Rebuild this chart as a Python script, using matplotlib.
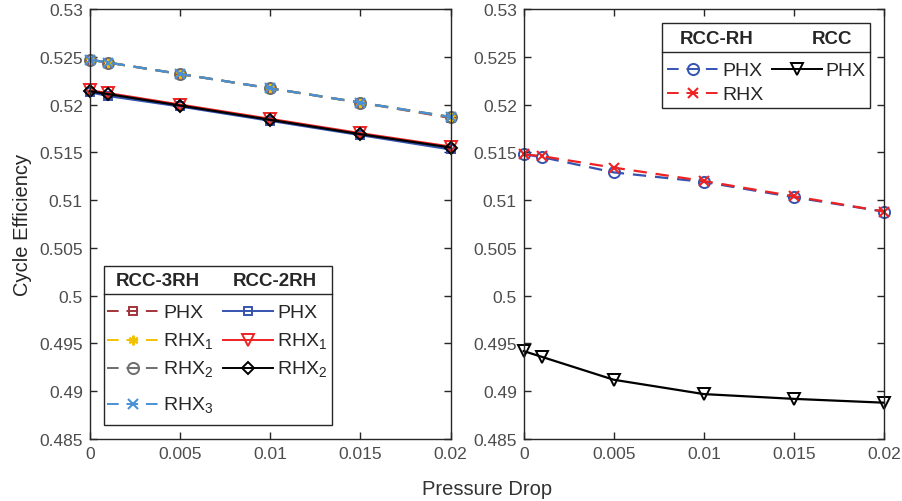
import matplotlib
matplotlib.use("Agg")
import matplotlib.pyplot as plt
from matplotlib.lines import Line2D
from matplotlib.ticker import FuncFormatter

plt.rcParams['font.family'] = ['Liberation Sans', 'DejaVu Sans']
plt.rcParams['mathtext.fontset'] = 'custom'
plt.rcParams['mathtext.rm'] = 'Liberation Sans'

# pressure drop (x axis)
dp = [0, 0.001, 0.005, 0.01, 0.015, 0.02]

# left panel: RCC-3RH (dashed) and RCC-2RH (solid)
rcc3_phx = [0.5247, 0.5244, 0.5232, 0.5217, 0.5202, 0.5186]
rcc3_rhx1 = [0.5247, 0.5244, 0.5232, 0.5217, 0.5202, 0.5187]
rcc3_rhx2 = [0.5247, 0.5244, 0.5232, 0.5217, 0.5202, 0.5187]
rcc3_rhx3 = [0.5247, 0.5244, 0.5232, 0.5217, 0.5202, 0.5187]
rcc2_phx = [0.5213, 0.5209, 0.5198, 0.5183, 0.5168, 0.5153]
rcc2_rhx1 = [0.5215, 0.5212, 0.5200, 0.5185, 0.5170, 0.5156]
rcc2_rhx2 = [0.5214, 0.5211, 0.5199, 0.5184, 0.5169, 0.5155]

# right panel: RCC-RH (dashed) and RCC (solid)
rccrh_phx = [0.5148, 0.5145, 0.5129, 0.5119, 0.5103, 0.5088]
rccrh_rhx = [0.5148, 0.5146, 0.5134, 0.5120, 0.5104, 0.5088]
rcc_phx = [0.4942, 0.4936, 0.4912, 0.4897, 0.4892, 0.4888]

W, H = 903, 502
fig = plt.figure(figsize=(W / 100, H / 100), dpi=100)

ax1 = fig.add_axes([89.7 / W, 1 - 440 / H, 361 / W, 430 / H])
ax2 = fig.add_axes([523.7 / W, 1 - 440 / H, 360.3 / W, 430 / H])

DASH = (0, (6, 4))
C_RED3 = '#a2353a'
C_YEL = '#f2c200'
C_GRAY = '#6e6e6e'
C_LBLUE = '#4a90d4'
C_BLUE = '#3553b0'
C_RED = '#ee2222'

ASTER = (6, 2, 0)

left_series = [
    (rcc3_phx, C_RED3, DASH, 's', 'PHX'),
    (rcc3_rhx1, C_YEL, DASH, ASTER, r'RHX$_\mathregular{1}$'),
    (rcc3_rhx2, C_GRAY, DASH, 'o', r'RHX$_\mathregular{2}$'),
    (rcc3_rhx3, C_LBLUE, DASH, 'x', r'RHX$_\mathregular{3}$'),
    (rcc2_phx, C_BLUE, '-', 's', 'PHX'),
    (rcc2_rhx1, C_RED, '-', 'v', r'RHX$_\mathregular{1}$'),
    (rcc2_rhx2, 'black', '-', 'D', r'RHX$_\mathregular{2}$'),
]
right_series = [
    (rccrh_phx, C_BLUE, DASH, 'o', 'PHX'),
    (rccrh_rhx, C_RED, DASH, 'x', 'RHX'),
    (rcc_phx, 'black', '-', 'v', 'PHX'),
]


def style_marker(m):
    if m in (ASTER, 'x'):
        return dict(marker=m, markersize=7, markeredgewidth=1.5)
    size = {'s': 6, 'o': 8, 'v': 9, 'D': 6}[m]
    return dict(marker=m, markersize=size, markerfacecolor='none',
                markeredgewidth=1.4)


for ax, series in ((ax1, left_series), (ax2, right_series)):
    for ys, col, ls, m, lab in series:
        ax.plot(dp, ys, color=col, linestyle=ls, linewidth=1.6,
                clip_on=False, **style_marker(m))
    ax.set_xlim(0, 0.02)
    ax.set_ylim(0.485, 0.53)
    ax.set_xticks([0, 0.005, 0.01, 0.015, 0.02])
    ax.set_yticks([0.485, 0.49, 0.495, 0.5, 0.505, 0.51, 0.515, 0.52, 0.525, 0.53])
    ax.xaxis.set_major_formatter(FuncFormatter(lambda v, p: '%g' % round(v, 4)))
    ax.yaxis.set_major_formatter(FuncFormatter(lambda v, p: '%g' % round(v, 4)))
    ax.tick_params(direction='in', top=True, right=True, length=5, width=1,
                   labelsize=12.5, labelcolor='#4d4d4d', colors='#262626', pad=5)
    for s in ax.spines.values():
        s.set_linewidth(1)
        s.set_color('#262626')

ax1.set_ylabel('Cycle Efficiency', fontsize=14.5, color='#262626', labelpad=5)
fig.text(487 / W, 1 - 490 / H, 'Pressure Drop', fontsize=14.5, color='#333333',
         ha='center', va='center')


def px(x, y):
    return x / W, 1 - y / H


def legend_box(x0, y0, x1, y1, yline, headers, cols):
    fig.add_artist(plt.Rectangle(px(x0, y1), (x1 - x0) / W, (y1 - y0) / H,
                                 transform=fig.transFigure, facecolor='white',
                                 edgecolor='#262626', linewidth=1, zorder=5))
    fig.add_artist(Line2D([x0 / W, x1 / W], [1 - yline / H] * 2,
                          transform=fig.transFigure, color='#262626',
                          linewidth=1, zorder=6))
    for hx, hy, txt in headers:
        fig.text(*px(hx, hy), txt, fontsize=13.5, fontweight='bold', color='#262626',
                 ha='center', va='center', zorder=7)
    for lx0, lx1, tx, rows in cols:
        for ry, (ys, col, ls, m, lab) in rows:
            fig.add_artist(Line2D([lx0 / W, lx1 / W], [1 - ry / H] * 2,
                                  transform=fig.transFigure, color=col,
                                  linestyle=ls, linewidth=1.4, zorder=7))
            fig.add_artist(Line2D([(lx0 + lx1) / 2 / W], [1 - ry / H],
                                  transform=fig.transFigure, color=col,
                                  linestyle='none', zorder=8, **style_marker(m)))
            fig.text(*px(tx, ry + 1), lab, fontsize=14, color='#262626',
                     ha='left', va='center', zorder=7)


legend_box(104, 267, 332, 426, 295,
           [(158, 282, 'RCC-3RH'), (275, 282, 'RCC-2RH')],
           [(107, 160, 163, list(zip([312, 341, 369, 405], left_series[:4]))),
            (223, 273, 277, list(zip([312, 341, 369], left_series[4:])))])

legend_box(662, 24, 870, 109, 53,
           [(717, 40, 'RCC-RH'), (832, 40, 'RCC')],
           [(667, 718, 722, list(zip([70, 94], right_series[:2]))),
            (772, 822, 825, list(zip([70], right_series[2:])))])

fig.savefig('out.png', dpi=100)
